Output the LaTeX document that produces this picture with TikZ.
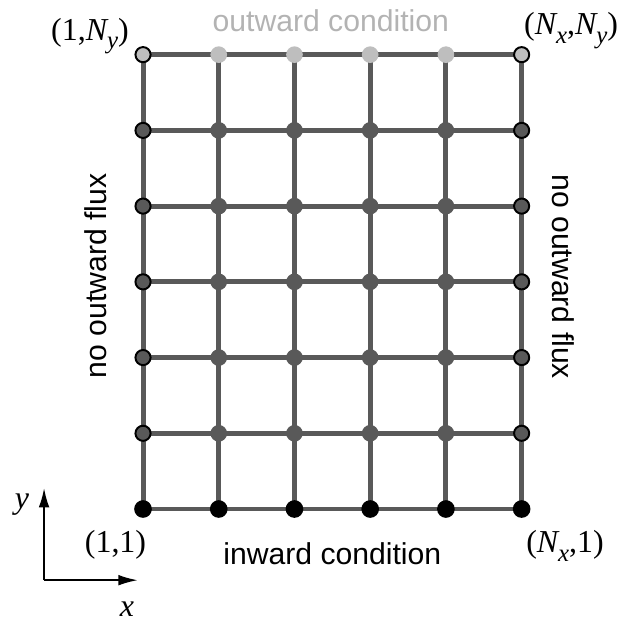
\documentclass[tikz,border=0pt]{standalone}
\usepackage{fontspec}
\setmainfont{Liberation Serif}
\setsansfont{Liberation Sans}
\usepackage{tikz}
\usetikzlibrary{arrows.meta,backgrounds}
\definecolor{gridgray}{HTML}{595959}
\definecolor{lightpt}{HTML}{BEBEBE}
\definecolor{outgray}{HTML}{B3B3B3}
\newcommand{\idx}[1]{\raisebox{-0.6ex}{\fontsize{14}{14}\selectfont\itshape #1}}

\begin{document}
\begin{tikzpicture}[
		pt/.style={circle,inner sep=0pt,minimum size=0.33cm,fill=gridgray},
		edgept/.style={pt,draw=black,line width=1.1pt,minimum size=0.30cm},
		toppt/.style={pt,fill=lightpt},
		cornerpt/.style={edgept,fill=lightpt},
		inpt/.style={pt,fill=black,minimum size=0.35cm},
		gridline/.style={gridgray,line width=2.8pt},
		lab/.style={font=\fontsize{18}{21}\selectfont},
		cond/.style={font=\sffamily\fontsize{17}{20}\selectfont}
	]
		
		\useasboundingbox (-2.833,-2.258) rectangle (9.390,10.083);
		
		\foreach \i in {1,...,6}
		\node[inpt] (p-\i-1) at ({1.5*\i-1.5},0) {};
		
		\foreach \i in {2,...,5}
		\node[toppt] (p-\i-7) at ({1.5*\i-1.5},9) {};
		\node[cornerpt] (p-1-7) at (0,9) {};
		\node[cornerpt] (p-6-7) at (7.5,9) {};
		
		\foreach \j in {2,...,6}{
			\node[edgept] (p-1-\j) at (0,{1.5*\j-1.5}) {};
			\node[edgept] (p-6-\j) at (7.5,{1.5*\j-1.5}) {};
			\foreach \i in {2,...,5}
			\node[pt] (p-\i-\j) at ({1.5*\i-1.5},{1.5*\j-1.5}) {};
		}
		
		\begin{pgfonlayer}{background}
			\foreach \i in {1,...,6}
			\draw[gridline] (p-\i-1.center) -- (p-\i-7.center);
			\foreach \j in {1,...,7}
			\draw[gridline] (p-1-\j.center) -- (p-6-\j.center);
		\end{pgfonlayer}
		
		\node[cond,text=outgray] (outc) at (3.72,9.67) {outward condition};
		\node[cond] (inc) at (3.75,-0.89) {inward condition};
		\node[cond,rotate=90] (leftc) at (-0.93,4.62) {no outward flux};
		\node[cond,rotate=-90] (rightc) at (8.32,4.60) {no outward flux};
		
		\node[lab,anchor=base] (c-1-7) at (-1.05,9.29)
		{(1,{\itshape N}\idx{y})};
		\node[lab,anchor=base] (c-6-7) at (8.48,9.39)
		{({\itshape N}\idx{x},{\itshape N}\idx{y})};
		\node[lab,anchor=base] (c-1-1) at (-0.545,-0.87)
		{(1,1)};
		\node[lab,anchor=base] (c-6-1) at (8.36,-0.87)
		{({\itshape N}\idx{x},1)};
		
		\coordinate (O) at (-1.96,-1.41);
		\coordinate (ytip) at (-1.96,0.42);
		\coordinate (xtip) at (-0.10,-1.41);
		
		\draw[-{Latex[length=11pt,width=6pt]},line width=1.2pt]
		(O) -- (ytip);
		\draw[-{Latex[length=11pt,width=6pt]},line width=1.2pt]
		(O) -- (xtip);
		
		\node[lab] (ylab) at (-2.40,0.08) {\itshape y};
		\node[lab] (xlab) at (-0.32,-1.98) {\itshape x};
		
	\end{tikzpicture}
\end{document}
